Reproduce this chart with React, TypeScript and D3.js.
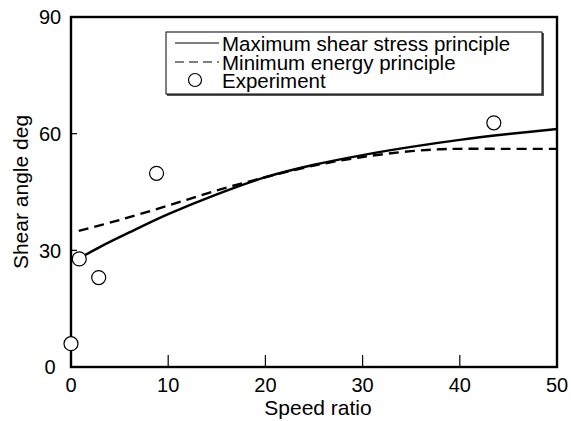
import React from "react";
import * as d3 from "d3";

const xTicks = [0, 10, 20, 30, 40, 50];
const yTicks = [0, 30, 60, 90];

const maxShearX = [0.9, 3, 6, 10, 15, 20, 25, 30, 35, 40, 45, 50];
const maxShearY = [28, 30.9, 34.6, 39.3, 44.4, 48.8, 52, 54.5, 56.6, 58.4, 59.9, 61.2];

const minEnergyX = [0.8, 5, 10, 15, 20, 25, 30, 35, 38, 40, 45, 50];
const minEnergyY = [35, 37.8, 41.5, 45.4, 48.8, 51.8, 54, 55.5, 56, 56.1, 56.1, 56.1];

const expX = [0, 0.85, 2.85, 8.8, 43.5];
const expY = [6, 27.8, 23, 49.8, 62.8];

const legendLabels = ["Maximum shear stress principle", "Minimum energy principle", "Experiment"];

export default function App() {
  const W = 571, H = 421;
  const x = d3.scaleLinear().domain([0, 50]).range([71, 557]);
  const y = d3.scaleLinear().domain([0, 90]).range([367, 17]);
  const line = d3
    .line<[number, number]>()
    .x((d) => x(d[0]))
    .y((d) => y(d[1]))
    .curve(d3.curveCatmullRom.alpha(0.5));
  const solid = line(maxShearX.map((v, i) => [v, maxShearY[i]]) as [number, number][]) || "";
  const dashed = line(minEnergyX.map((v, i) => [v, minEnergyY[i]]) as [number, number][]) || "";
  const font = "'Liberation Sans', Arial, Helvetica, sans-serif";
  const [x0, x1] = x.range();
  const [y0, y1] = y.range();

  return (
    <svg
      width={W}
      height={H}
      style={{ position: "absolute", left: 0, top: 0, background: "#fff" }}
      fontFamily={font}
    >
      <rect x={0} y={0} width={W} height={H} fill="#fff" />
      {/* ticks */}
      {xTicks.slice(1, -1).map((t) => (
        <line key={"xt" + t} x1={x(t)} x2={x(t)} y1={y0} y2={y0 - 12} stroke="#000" strokeWidth={1.2} />
      ))}
      {yTicks.slice(1, -1).map((t) => (
        <line key={"yt" + t} x1={x0} x2={x0 + 6} y1={y(t)} y2={y(t)} stroke="#000" strokeWidth={1.2} />
      ))}
      {/* curves */}
      <path d={solid} fill="none" stroke="#000" strokeWidth={2.4} />
      <path d={dashed} fill="none" stroke="#000" strokeWidth={2.4} strokeDasharray="10 6" />
      {/* frame */}
      <rect x={x0} y={y1} width={x1 - x0} height={y0 - y1} fill="none" stroke="#000" strokeWidth={2.4} />
      {/* experiment points */}
      {expX.map((v, i) => (
        <circle key={"p" + i} cx={x(v)} cy={y(expY[i])} r={7} fill="#fff" stroke="#000" strokeWidth={1.2} />
      ))}
      {/* tick labels */}
      {xTicks.map((t) => (
        <text key={"xl" + t} x={x(t)} y={392} fontSize={20} textAnchor="middle" fill="#000">
          {t}
        </text>
      ))}
      {yTicks.map((t) => (
        <text key={"yl" + t} x={50} y={y(t) + 7.3} fontSize={20} textAnchor="middle" fill="#000">
          {t}
        </text>
      ))}
      {/* axis labels */}
      <text x={318} y={415} fontSize={21} textAnchor="middle" fill="#000">
        Speed ratio
      </text>
      <text transform="translate(28,192) rotate(-90)" fontSize={21} textAnchor="middle" fill="#000">
        Shear angle deg
      </text>
      {/* legend */}
      <rect x={167} y={33} width={377} height={63} fill="#555" />
      <rect x={166} y={32} width={376} height={62} fill="#fff" stroke="#000" strokeWidth={1} />
      <line x1={175} x2={219} y1={43} y2={43} stroke="#000" strokeWidth={1.2} />
      <line x1={175} x2={219} y1={62} y2={62} stroke="#000" strokeWidth={1.2} strokeDasharray="9 5" />
      <circle cx={195} cy={80} r={6.5} fill="#fff" stroke="#000" strokeWidth={1.2} />
      {legendLabels.map((l, i) => (
        <text key={l} x={222} y={[51, 69.5, 88][i]} fontSize={20.5} fill="#000">
          {l}
        </text>
      ))}
    </svg>
  );
}
